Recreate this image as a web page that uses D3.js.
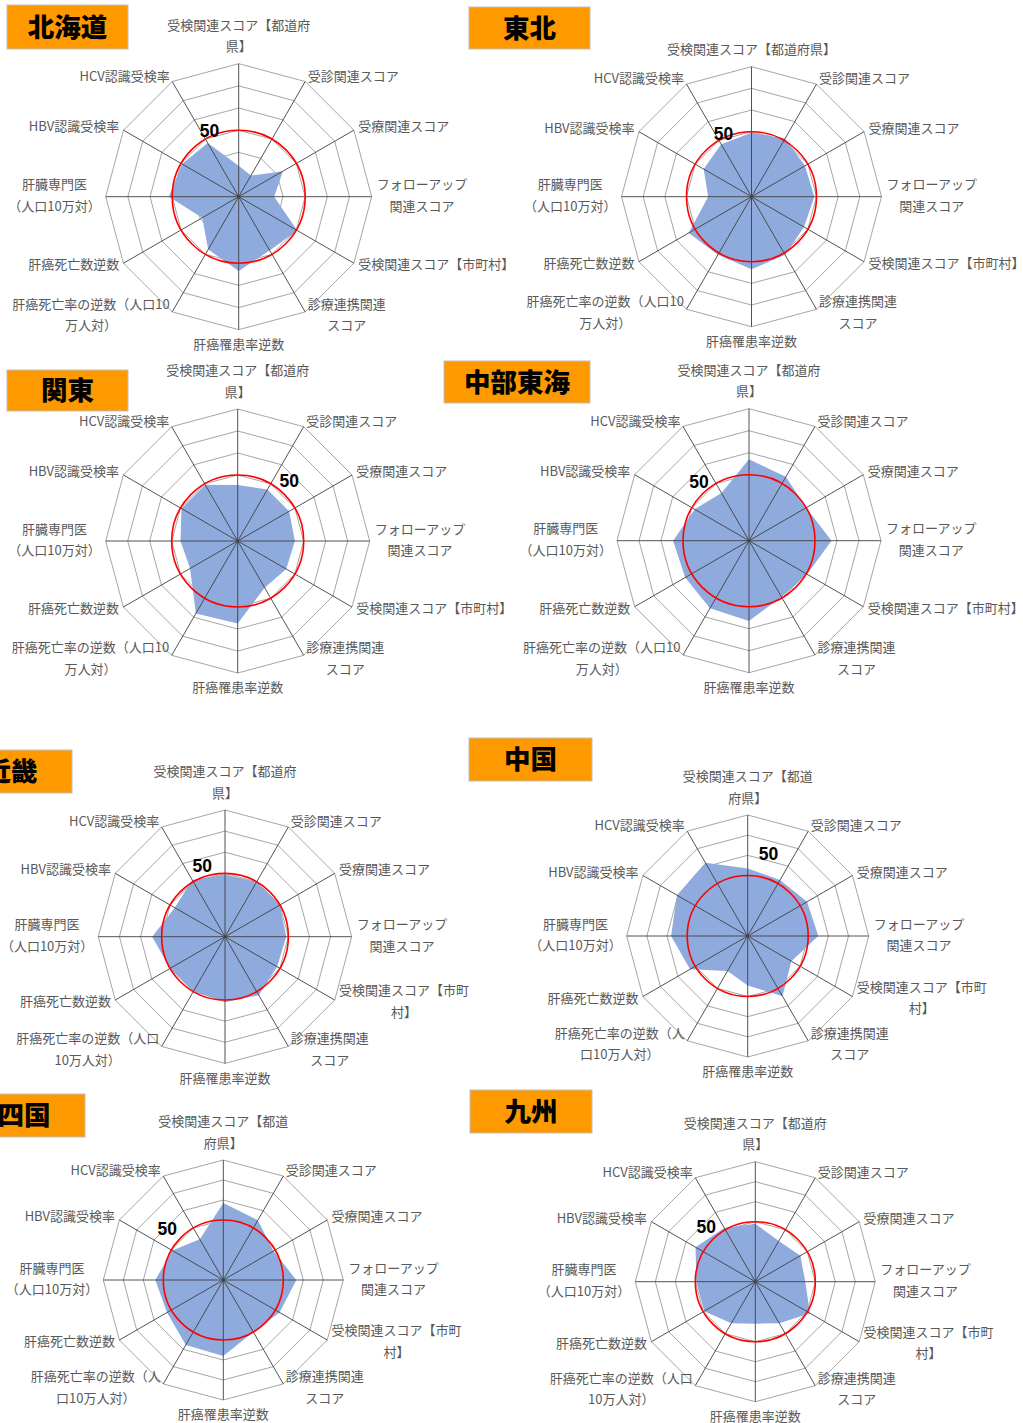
<!DOCTYPE html>
<html lang="ja">
<head>
<meta charset="utf-8">
<title>地域別 肝炎対策スコア レーダーチャート</title>
<script src="https://cdn.jsdelivr.net/npm/d3@7"></script>
<style>
  html, body { margin: 0; padding: 0; background: #ffffff; }
  svg { display: block; }
</style>
</head>
<body>
<svg id="chart" width="1023" height="1423"></svg>
<script>
// ---- data -------------------------------------------------------------
const categories = [
  "受検関連スコア【都道府県】",
  "受診関連スコア",
  "受療関連スコア",
  "フォローアップ関連スコア",
  "受検関連スコア【市町村】",
  "診療連携関連スコア",
  "肝癌罹患率逆数",
  "肝癌死亡率の逆数（人口10万人対）",
  "肝癌死亡数逆数",
  "肝臓専門医（人口10万対）",
  "HBV認識受検率",
  "HCV認識受検率"
];

const regions = ["北海道", "東北", "関東", "中部東海", "近畿", "中国", "四国", "九州"];

// deviation scores, one value per category (clockwise from the top)
const hokkaido = [34, 31, 43, 36, 50.5, 48, 53.5, 47.5, 39, 51.5, 49.5, 48];
const tohoku   = [49.5, 51, 48.5, 49, 48, 51, 53.5, 51, 53.5, 40, 45.5, 48];
const kanto    = [45.5, 47, 47, 46, 45.5, 44.5, 57.5, 58, 45, 46, 49.5, 49.5];
const chubu    = [57, 53.5, 50, 57.5, 50.5, 49.5, 56.5, 55.5, 53.5, 54.5, 48.5, 45];
const kinki    = [49.5, 50, 50, 49, 48.5, 52, 51, 50, 50, 54.5, 47.5, 51];
const chugoku  = [53.5, 52, 54, 55, 45, 54.5, 44.5, 40, 53, 58, 60.5, 62];
const shikoku  = [58.5, 54.5, 49, 56.5, 52.5, 50, 58, 57.5, 52.5, 54, 49.5, 43.5];
const kyushu   = [49, 43.5, 46, 45, 51.5, 44, 41, 44, 49.5, 49.5, 54.5, 51];

const regionValues = [hokkaido, tohoku, kanto, chubu, kinki, chugoku, shikoku, kyushu];

// radial axis: 20 at the centre, gridline every 10 up to 80
const radialDomain = [20, 80];
const ringTicks = [30, 40, 50, 60, 70, 80];
const referenceValue = 50;
const referenceLabel = "50";

// where long axis names wrap (text after which the line breaks)
const topBreaks       = ["都道府", null, "都道府", "都道府", "都道府", "都道", "都道", "都道府"];
const townBreaks      = [null, null, null, null, "市町", "市町", "市町", "市町"];
const mortalityBreaks = ["人口10", "人口10", "人口10", "人口10", "人口", "人", "人", "人口"];
const fixedBreaks = {
  "フォローアップ関連スコア": "フォローアップ",
  "診療連携関連スコア": "診療連携関連",
  "肝臓専門医（人口10万対）": "肝臓専門医"
};

// ---- layout -----------------------------------------------------------
const panels = [
  { cx: 238.7, cy: 196.7, R: 133,   box: [7, 5, 121, 44],      tag: [209.5, 130.5] },
  { cx: 751.5, cy: 196.7, R: 130,   box: [469, 7, 121, 42],    tag: [723.5, 134] },
  { cx: 237.7, cy: 541,   R: 132,   box: [7, 370, 121, 41],    tag: [289.3, 480.7] },
  { cx: 749,   cy: 540.7, R: 132,   box: [444, 361, 146, 42],  tag: [699, 481.7] },
  { cx: 225,   cy: 936.7, R: 126.7, box: [-50, 750, 122, 43],  tag: [202.3, 865.7] },
  { cx: 747.7, cy: 936,   R: 121,   box: [469, 738, 123, 43],  tag: [768.5, 854.3] },
  { cx: 223.3, cy: 1280,  R: 120,   box: [-37, 1094, 122, 43], tag: [167.3, 1229.3] },
  { cx: 755.3, cy: 1281.7, R: 120,  box: [470, 1090, 122, 43], tag: [706.3, 1226.7] }
];

const style = {
  fill: "#8FAADC",
  ring: "#A6A6A6",
  spoke: "#404040",
  reference: "#FF0000",
  label: "#595959",
  titleBox: "#FF9900",
  font: "'Noto Sans CJK JP', 'Noto Sans', sans-serif",
  labelSize: 13,
  lineHeight: 21.5,
  labelPad: 5,
  labelShift: -2.5
};

// ---- drawing ----------------------------------------------------------
const svg = d3.select("#chart");
const n = categories.length;
const angle = d3.scaleLinear().domain([0, n]).range([0, 2 * Math.PI]);

function splitAfter(text, marker) {
  if (!marker) return [text];
  const k = text.indexOf(marker);
  if (k < 0) return [text];
  const cut = k + marker.length;
  return cut >= text.length ? [text] : [text.slice(0, cut), text.slice(cut)];
}

function axisLines(regionIndex, catIndex) {
  const name = categories[catIndex];
  if (catIndex === 0) return splitAfter(name, topBreaks[regionIndex]);
  if (catIndex === 4) return splitAfter(name, townBreaks[regionIndex]);
  if (catIndex === 7) return splitAfter(name, mortalityBreaks[regionIndex]);
  return splitAfter(name, fixedBreaks[name] || null);
}

regions.forEach((region, ri) => {
  const p = panels[ri];
  const values = regionValues[ri];
  const r = d3.scaleLinear().domain(radialDomain).range([0, p.R]);

  // title tag
  const title = svg.append("g").attr("class", "region-title");
  title.append("rect")
    .attr("x", p.box[0]).attr("y", p.box[1])
    .attr("width", p.box[2]).attr("height", p.box[3])
    .attr("fill", style.titleBox)
    .attr("stroke", "#BFBFBF").attr("stroke-width", 1);
  title.append("text")
    .attr("x", p.box[0] + p.box[2] / 2)
    .attr("y", p.box[1] + p.box[3] / 2 - 2)
    .attr("text-anchor", "middle")
    .attr("dominant-baseline", "central")
    .attr("font-family", style.font)
    .attr("font-weight", 900)
    .attr("font-size", 26.5)
    .attr("fill", "#000")
    .text(region);

  const g = svg.append("g")
    .attr("class", "radar")
    .attr("transform", `translate(${p.cx},${p.cy})`);

  // concentric 12-sided gridlines
  const ringLine = d3.lineRadial()
    .angle((d, i) => angle(i))
    .radius(d => r(d))
    .curve(d3.curveLinearClosed);

  g.selectAll("path.ring")
    .data(ringTicks)
    .join("path")
    .attr("class", "ring")
    .attr("d", t => ringLine(d3.range(n).map(() => t)))
    .attr("fill", "none")
    .attr("stroke", style.ring)
    .attr("stroke-width", 1);

  // series area
  const area = d3.lineRadial()
    .angle((d, i) => angle(i))
    .radius(d => r(d))
    .curve(d3.curveLinearClosed);

  g.append("path")
    .attr("class", "series")
    .attr("d", area(values))
    .attr("fill", style.fill)
    .attr("stroke", "none");

  // spokes
  g.selectAll("line.spoke")
    .data(d3.range(n))
    .join("line")
    .attr("class", "spoke")
    .attr("x1", 0).attr("y1", 0)
    .attr("x2", i => Math.sin(angle(i)) * r(radialDomain[1]))
    .attr("y2", i => -Math.cos(angle(i)) * r(radialDomain[1]))
    .attr("stroke", style.spoke)
    .attr("stroke-width", 0.9);

  // reference circle at 50
  g.append("circle")
    .attr("class", "reference")
    .attr("r", r(referenceValue))
    .attr("fill", "none")
    .attr("stroke", style.reference)
    .attr("stroke-width", 1.6);

  // axis names
  d3.range(n).forEach(i => {
    const a = angle(i);
    const dx = Math.sin(a), dy = -Math.cos(a);
    const ax = dx * (p.R + style.labelPad);
    const ay = dy * (p.R + style.labelPad) + style.labelShift;
    const lines = axisLines(ri, i);
    const t = g.append("text")
      .attr("class", "axis-label")
      .attr("font-family", style.font)
      .attr("font-size", style.labelSize)
      .attr("fill", style.label)
      .attr("text-anchor", "middle")
      .attr("dominant-baseline", "central");
    const spans = lines.map(s => t.append("tspan").text(s));
    const widths = spans.map(s => s.node().getComputedTextLength());
    const boxW = d3.max(widths);
    let centreX;
    if (dx > 0.1) centreX = ax + boxW / 2;
    else if (dx < -0.1) centreX = ax - boxW / 2;
    else centreX = ax;
    const m = lines.length;
    let firstY;
    if (dy < -0.9) firstY = ay - style.lineHeight * (m - 0.5);
    else if (dy > 0.9) firstY = ay + style.lineHeight * 0.5;
    else firstY = ay - style.lineHeight * (m - 1) / 2;
    spans.forEach((s, k) => s.attr("x", centreX).attr("y", firstY + k * style.lineHeight));
  });

  // reference value tag
  svg.append("text")
    .attr("class", "reference-tag")
    .attr("x", p.tag[0]).attr("y", p.tag[1])
    .attr("text-anchor", "middle")
    .attr("dominant-baseline", "central")
    .attr("font-family", "'Liberation Sans', 'DejaVu Sans', sans-serif")
    .attr("font-weight", 700)
    .attr("font-size", 17.5)
    .attr("fill", "#000")
    .text(referenceLabel);
});
</script>
</body>
</html>
